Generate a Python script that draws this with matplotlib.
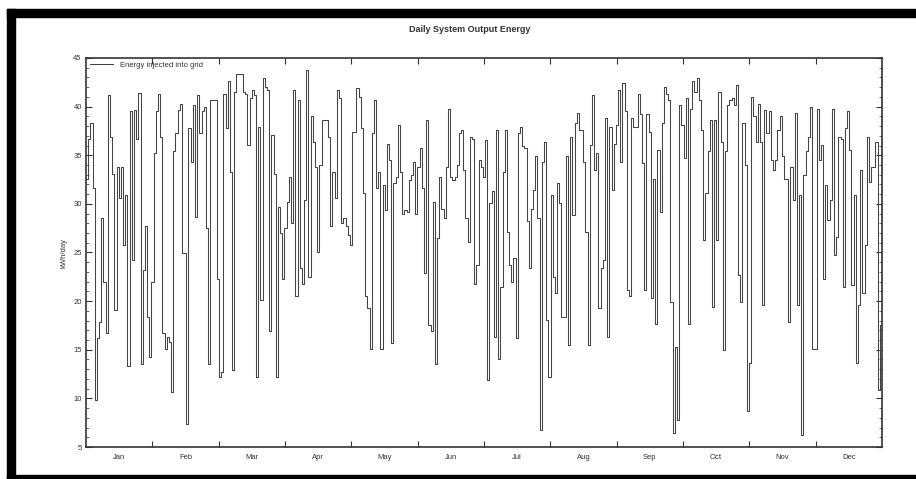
# %% Import modules
import numpy as np
import matplotlib.pyplot as plt
from matplotlib.patches import Rectangle

plt.rcParams['font.family'] = ['Liberation Sans', 'DejaVu Sans']

# %% Data (kWh per day, 365 days)
months = ['Jan', 'Feb', 'Mar', 'Apr', 'May', 'Jun',
          'Jul', 'Aug', 'Sep', 'Oct', 'Nov', 'Dec']

energy_q1 = [32.6, 36.7, 38.3, 31.6, 9.8, 16.2, 17.9, 28.5, 22.0, 16.7,
             41.2, 36.9, 33.1, 19.1, 33.8, 30.6, 33.8, 25.8, 30.9, 13.3,
             39.5, 24.2, 39.7, 36.7, 41.4, 13.5, 23.2, 27.7, 18.4, 14.3,
             22.0, 35.2, 39.5, 41.3, 36.9, 16.7, 15.1,
             16.3, 15.8, 10.7, 35.4, 37.3, 39.7, 40.3, 24.9, 24.9, 7.4,
             37.8, 34.3, 40.2, 28.7, 41.2, 37.3, 39.5, 40.0, 27.5, 13.5,
             40.7, 40.7, 40.7, 22.3, 12.2, 12.7, 41.3, 37.8, 42.6, 33.3,
             12.9, 41.5, 43.4, 43.4,
             43.4, 41.5, 41.3, 36.1, 40.9, 41.7, 41.2, 12.2, 37.9, 20.1,
             42.9, 42.0, 41.7, 16.9, 37.1, 33.1, 12.2, 29.7, 27.0, 22.3]
energy_q2 = [27.5, 30.2, 32.8, 28.0, 41.7, 20.5, 40.7, 23.4, 21.8, 30.4,
             43.8, 22.5, 39.0, 36.4, 33.8, 25.1, 34.0, 38.6,
             38.6, 38.6, 36.9, 27.7, 33.3, 30.6, 41.7, 40.9, 28.0, 28.5,
             27.7, 26.8, 25.8, 37.4, 37.4, 41.9, 41.0, 37.8, 31.1, 20.5,
             19.3, 15.1, 37.3, 40.7, 31.6, 33.3, 15.1, 31.9, 29.4, 36.2,
             34.5, 15.7, 32.1, 32.8, 38.1, 33.3, 29.0, 29.4,
             29.2, 32.5, 33.0, 34.3, 29.0, 33.8, 35.7, 31.6, 22.9, 38.6,
             17.5, 16.9, 30.2, 13.5, 26.5, 32.8, 29.5, 28.5, 33.8, 39.8,
             32.8, 32.5, 32.8, 34.0, 37.3, 37.6, 33.5, 28.5, 26.1, 36.9,
             36.7, 21.8, 23.7, 34.5, 33.8, 32.8, 36.6]
energy_q3 = [11.9,
             30.1, 31.3, 16.3, 37.6, 14.1, 21.5, 33.3, 37.6, 27.1, 23.7,
             22.0, 24.4, 16.2, 37.3, 37.9, 35.9, 35.7, 28.2, 23.4, 29.5,
             31.4, 34.9, 28.5, 6.7, 34.3, 36.4, 18.1, 12.2, 30.9, 22.5,
             20.8, 32.1, 30.1, 18.4,
             18.4, 34.9, 15.5, 36.9, 28.9, 38.3, 39.3, 37.6, 37.6, 34.3,
             27.1, 15.5, 36.1, 41.2, 33.5, 35.2, 19.3, 23.4, 24.2, 38.8,
             16.3, 37.9, 31.4, 36.2, 38.1, 41.7, 34.3, 42.4, 39.5, 21.1,
             20.5, 38.8, 37.9, 37.9, 41.3, 39.2, 34.2, 21.1, 39.2,
             37.4, 20.3, 32.6, 17.6, 35.5, 29.2, 38.3, 42.0, 41.3, 40.7,
             19.9, 6.4, 15.3, 7.8, 40.2]
energy_q4 = [38.1, 34.7, 40.9, 17.6, 39.8, 42.6, 41.5, 42.9, 40.7, 37.6,
             26.3, 31.1, 35.4, 38.6, 19.4, 38.6, 26.3, 41.5, 36.4, 15.0,
             35.4,
             40.2, 40.7, 40.9, 40.2, 42.2, 22.7, 19.9, 38.3, 34.0, 8.7,
             13.6, 41.0, 39.0, 36.4, 40.3, 36.4, 19.6, 39.7, 37.3, 39.5,
             34.5, 33.5, 34.5, 37.6, 39.0, 34.9, 32.6, 32.6, 17.9, 33.8,
             30.4, 39.3, 19.6, 30.9, 6.2, 33.0, 35.4,
             36.9, 40.0, 15.1, 15.1, 39.8, 34.5, 36.1, 22.3, 31.9, 28.3,
             30.4, 39.8, 24.7, 26.6, 36.9, 36.7, 21.5, 37.8, 39.5, 35.5,
             21.7, 30.9, 13.6, 19.6, 33.5, 20.8, 25.8, 36.9, 32.3, 33.8,
             33.8, 36.4, 10.9, 17.5]

energy = np.array(energy_q1 + energy_q2 + energy_q3 + energy_q4)

# %% Build the step series (last day held to the end of the year)
days = np.arange(len(energy) + 1)
energy_step = np.append(energy, energy[-1])

# %% Plot
fig = plt.figure(figsize=(9.16, 4.79), dpi=100)
ax = fig.add_axes([86 / 916, 1 - 447 / 479, 796 / 916, 389 / 479])

ax.plot(days, energy_step, drawstyle='steps-post', color='#444444',
        lw=0.75, label='Energy injected into grid')

ax.set_xlim(0, len(energy))
ax.set_ylim(5, 45)

# month boundaries as ticks, names centred between them
edges = np.linspace(0, len(energy), 13)
ax.set_xticks(edges[1:-1])
ax.set_xticklabels([])
ax.set_xticks((edges[:-1] + edges[1:]) / 2, minor=True)
ax.set_xticklabels(months, minor=True)
ax.tick_params(axis='x', which='major', direction='in', length=4,
               width=0.8, top=True, color='#333333')
ax.tick_params(axis='x', which='minor', length=0, pad=5, labelsize=5.5,
               labelcolor='#333333')

ax.set_yticks(np.arange(5, 46, 5))
ax.set_yticks(np.arange(5, 46, 1), minor=True)
ax.tick_params(axis='y', which='major', direction='in', length=4,
               width=0.8, right=True, labelsize=5.5, pad=3,
               color='#333333', labelcolor='#333333')
ax.tick_params(axis='y', which='minor', direction='in', length=2,
               width=0.6, right=True, color='#555555')

for s in ax.spines.values():
    s.set_color('#333333')
    s.set_linewidth(1.2)

ax.set_ylabel('kWh/day', fontsize=5.5, color='#333333', labelpad=4)
fig.text(0.513, 1 - 29 / 479, 'Daily System Output Energy', ha='center',
         va='center', fontsize=6.5, fontweight='bold', color='#333333')

leg = ax.legend(loc='upper left', frameon=False, fontsize=5.5,
                handlelength=3.0, borderaxespad=0.1, handletextpad=1.0)
for t in leg.get_texts():
    t.set_color('#333333')

# black frame round the picture
for x0, y0, w, h in [(7, 9, 8, 470), (7, 9, 909, 8), (7, 475, 909, 4)]:
    fig.patches.append(Rectangle((x0 / 916, 1 - (y0 + h) / 479), w / 916,
                                 h / 479, transform=fig.transFigure,
                                 color='black', zorder=10))

fig.savefig('out.png', dpi=100)
